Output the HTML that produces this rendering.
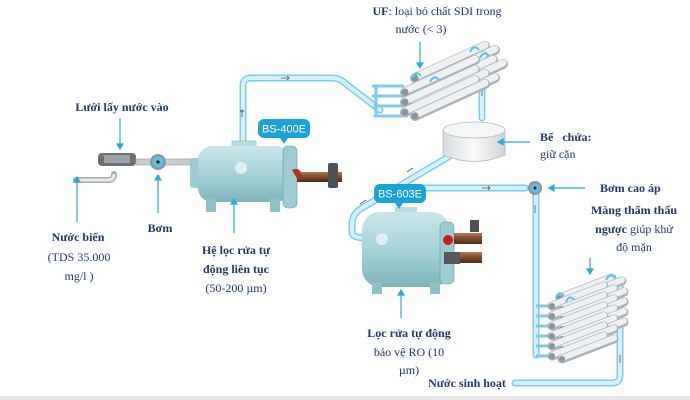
<!DOCTYPE html>
<html><head><meta charset="utf-8"><style>
html,body{margin:0;padding:0;background:#fff}
svg{display:block}
text{font-family:"Liberation Serif",serif;fill:#1f3864;font-size:12px}
.b{font-weight:bold}
.s{font-family:"Liberation Sans",sans-serif;fill:#fff;font-size:11px}
</style></head><body>
<svg width="690" height="400" viewBox="0 0 690 400" xmlns="http://www.w3.org/2000/svg">
<defs>
<linearGradient id="tk" x1="0" x2="1"><stop offset="0" stop-color="#d8dcdf"/><stop offset=".5" stop-color="#fafafa"/><stop offset="1" stop-color="#cfd3d6"/></linearGradient>
<linearGradient id="bd" x1="0" y1="0" x2="0" y2="1"><stop offset="0" stop-color="#c9e6ea"/><stop offset=".5" stop-color="#a6d3d9"/><stop offset="1" stop-color="#7fb4bb"/></linearGradient>
<linearGradient id="br" x1="0" y1="0" x2="0" y2="1"><stop offset="0" stop-color="#b07a55"/><stop offset=".5" stop-color="#7a4a2c"/><stop offset="1" stop-color="#4e2e1a"/></linearGradient>
<g id="uf"><line x1="0" y1="0" x2="70" y2="-32" stroke="#aab3ba" stroke-width="10" stroke-linecap="round"/><line x1="0" y1="-1" x2="70" y2="-33" stroke="#eef0f2" stroke-width="7" stroke-linecap="round"/><circle cx="0" cy="0" r="3.5" fill="#8a949b"/></g>
<g id="ro"><line x1="0" y1="0" x2="52" y2="-20" stroke="#aab3ba" stroke-width="9" stroke-linecap="round"/><line x1="0" y1="-1" x2="52" y2="-21" stroke="#eef0f2" stroke-width="6" stroke-linecap="round"/><circle cx="0" cy="0" r="3" fill="#8a949b"/></g>
</defs>
<g fill="none" stroke-linecap="round" stroke-linejoin="round">
<g stroke="#7fcbe8" stroke-width="7">
<path d="M243 140 V86 Q243 78 251 78 H332 Q340 78 346 84 L380 110"/>
<path d="M482 60 V118"/>
<path d="M460 150 L362 208 Q352 214 352 224 V232 Q352 238 366 238"/>
<path d="M420 188 H525"/>
<path d="M536 196 V355"/>
<path d="M515 383 H612 Q620 383 620 375 V285"/>
</g>
<g stroke="#d6f0fa" stroke-width="4">
<path d="M243 140 V86 Q243 78 251 78 H332 Q340 78 346 84 L380 110"/>
<path d="M482 60 V118"/>
<path d="M460 150 L362 208 Q352 214 352 224 V232 Q352 238 366 238"/>
<path d="M420 188 H525"/>
<path d="M536 196 V355"/>
<path d="M515 383 H612 Q620 383 620 375 V285"/>
</g>
</g>
<g stroke="#555" stroke-width=".8" fill="none">
<path d="M281 78 h8 m-2 -2 l2 2 -2 2"/><path d="M242 117 v-7 m-2 2 l2 -2 2 2"/>
<path d="M482 88 v8"/><path d="M413 168 l-6 4"/><path d="M366 200 l-6 4"/>
<path d="M482 188 h8 m-2 -2 l2 2 -2 2"/><path d="M535 205 v8"/><path d="M620 355 v8"/>
</g>
<g stroke="#7fcbe8" stroke-width="3" fill="none">
<path d="M372 86 H404 M372 96 H404 M374 106 H406 M374 116 H408 M376 86 V116"/>
</g>
<use href="#uf" x="415" y="78"/><use href="#uf" x="425" y="82"/>
<use href="#uf" x="413" y="88"/><use href="#uf" x="423" y="92"/><use href="#uf" x="433" y="96"/>
<use href="#uf" x="405" y="92"/><use href="#uf" x="405" y="102"/><use href="#uf" x="415" y="106"/><use href="#uf" x="425" y="110"/>
<use href="#uf" x="405" y="112"/><use href="#uf" x="415" y="116"/>
<g stroke="#5cc1e6" stroke-width="2" fill="none">
<path d="M412 78 q4 -8 9 -2 M430 82 q4 -8 9 -2 M470 52 q4 -8 9 -2 M480 58 q4 -8 9 -2"/>
</g>
<path d="M443 130 V155 Q474 168 505 155 V130 Z" fill="url(#tk)" stroke="#b5bcc1" stroke-width=".8"/>
<ellipse cx="474" cy="130" rx="31" ry="8" fill="#f5f6f7" stroke="#b5bcc1" stroke-width=".8"/>
<g stroke="#7fcbe8" stroke-width="3" fill="none">
<path d="M536 306 H552 M536 316 H552 M536 326 H552 M536 336 H552 M536 346 H552 M536 356 H552"/>
</g>
<use href="#ro" x="560" y="298"/><use href="#ro" x="570" y="301"/>
<use href="#ro" x="552" y="306"/><use href="#ro" x="562" y="309"/><use href="#ro" x="572" y="312"/>
<use href="#ro" x="552" y="316"/><use href="#ro" x="562" y="319"/><use href="#ro" x="572" y="322"/>
<use href="#ro" x="552" y="326"/><use href="#ro" x="562" y="329"/><use href="#ro" x="572" y="332"/>
<use href="#ro" x="552" y="336"/><use href="#ro" x="562" y="339"/><use href="#ro" x="572" y="342"/>
<use href="#ro" x="552" y="346"/><use href="#ro" x="562" y="349"/>
<use href="#ro" x="552" y="356"/><use href="#ro" x="562" y="359"/>
<g stroke="#5cc1e6" stroke-width="2" fill="none">
<path d="M556 298 q3 -8 8 -2 M566 302 q3 -8 8 -2 M606 280 q4 -8 9 -2"/>
</g>
<path d="M76 180 H108 Q114 180 114 174" stroke="#a7adb2" stroke-width="6" fill="none" stroke-linecap="round"/>
<path d="M76 180 H108 Q114 180 114 174" stroke="#e8eaec" stroke-width="3" fill="none"/>
<rect x="98" y="153" width="38" height="13" rx="4" fill="#6c7176"/>
<rect x="104" y="155" width="26" height="8" fill="#9aa0a5"/>
<rect x="136" y="159" width="60" height="6" fill="#c7cccf" stroke="#9aa0a5" stroke-width=".6"/>
<circle cx="158" cy="162" r="8" fill="#8f9599"/><circle cx="158" cy="162" r="5.5" fill="#5cc1e6"/><circle cx="158" cy="162" r="1.6" fill="#222"/>
<rect x="190" y="158" width="12" height="30" rx="3" fill="#9dcbd1"/>
<rect x="232" y="141" width="24" height="8" fill="#b6dde2" stroke="#8ab8be" stroke-width=".6"/>
<rect x="198" y="146" width="92" height="56" rx="14" fill="url(#bd)"/>
<rect x="206" y="198" width="10" height="14" fill="#8fc0c6"/><rect x="270" y="198" width="10" height="14" fill="#8fc0c6"/>
<rect x="283" y="146" width="14" height="62" rx="5" fill="#9fcbd2" stroke="#6a9ba2" stroke-width=".6"/>
<rect x="297" y="172" width="45" height="10" fill="url(#br)"/>
<path d="M292 170 q8 -4 10 6 l-4 4 z" fill="#b0302a"/>
<rect x="328" y="163" width="10" height="25" rx="2" fill="#4d5257"/>
<circle cx="241" cy="168" r="6" fill="#fff" opacity=".6"/>
<rect x="395" y="207" width="22" height="8" fill="#b6dde2"/>
<rect x="362" y="212" width="88" height="75" rx="18" fill="url(#bd)"/>
<rect x="372" y="282" width="10" height="12" fill="#8fc0c6"/><rect x="430" y="282" width="10" height="12" fill="#8fc0c6"/>
<rect x="440" y="222" width="14" height="62" rx="5" fill="#9fcbd2" stroke="#6a9ba2" stroke-width=".6"/>
<rect x="454" y="233" width="28" height="11" fill="url(#br)"/>
<rect x="454" y="252" width="28" height="11" fill="url(#br)"/>
<rect x="444" y="252" width="16" height="12" fill="#55595d"/>
<circle cx="448" cy="240" r="5" fill="#c81e1e"/>
<rect x="470" y="220" width="9" height="12" fill="#4d5257"/>
<circle cx="382" cy="239" r="6" fill="#fff" opacity=".6"/>
<circle cx="535" cy="188" r="7" fill="#8f9599"/><circle cx="535" cy="188" r="4.8" fill="#5cc1e6"/><circle cx="535" cy="188" r="1.5" fill="#222"/>
<rect x="258" y="119" width="52" height="19" rx="6" fill="#1aa3d9"/><path d="M280 138 l4 6 4 -6z" fill="#1aa3d9"/>
<text class="s" x="284" y="132.5" text-anchor="middle">BS-400E</text>
<rect x="374" y="184" width="52" height="19" rx="6" fill="#1aa3d9"/><path d="M395 203 l4 6 4 -6z" fill="#1aa3d9"/>
<text class="s" x="400" y="197.5" text-anchor="middle">BS-603E</text>
<g stroke="#2aa9dc" stroke-width="1.2" fill="#2aa9dc">
<path d="M120 118 V145"/><path d="M117 144 l3 5 3 -5z"/>
<path d="M77 222 V181"/><path d="M74 182 l3 -5 3 5z"/>
<path d="M158 213 V179"/><path d="M155 180 l3 -5 3 5z"/>
<path d="M234 233 V203"/><path d="M231 204 l3 -5 3 5z"/>
<path d="M420 42 V64"/><path d="M417 63 l3 5 3 -5z"/>
<path d="M530 142 H502"/><path d="M503 139 l-5 3 5 3z"/>
<path d="M585 188 H553"/><path d="M554 185 l-5 3 5 3z"/>
<path d="M590 258 V270"/><path d="M587 269 l3 5 3 -5z"/>
<path d="M401 318 V294"/><path d="M398 295 l3 -5 3 5z"/>
</g>
<text class="b" x="122" y="111" text-anchor="middle">Lưới lấy nước vào</text>
<text class="b" x="78" y="241" text-anchor="middle">Nước biển</text>
<text x="79" y="261" text-anchor="middle">(TDS 35.000</text>
<text x="79" y="280" text-anchor="middle">mg/l )</text>
<text class="b" x="160" y="232" text-anchor="middle">Bơm</text>
<text class="b" x="236" y="254" text-anchor="middle">Hệ lọc rửa tự</text>
<text class="b" x="236" y="273" text-anchor="middle">động liên tục</text>
<text x="236" y="292" text-anchor="middle">(50-200 µm)</text>
<text x="437" y="15" text-anchor="middle"><tspan class="b">UF</tspan>: loại bỏ chất SDI trong</text>
<text x="421" y="33" text-anchor="middle">nước (&lt; 3)</text>
<text class="b" x="540" y="141">Bể&#160;&#160;&#160;chứa:</text>
<text x="540" y="158">giữ cặn</text>
<text class="b" x="600" y="192">Bơm cao áp</text>
<text class="b" x="634" y="214" text-anchor="middle">Màng thẩm thấu</text>
<text x="634" y="233" text-anchor="middle"><tspan class="b">ngược</tspan> giúp khử</text>
<text x="634" y="251" text-anchor="middle">độ mặn</text>
<text class="b" x="409" y="337" text-anchor="middle">Lọc rửa tự động</text>
<text x="409" y="356" text-anchor="middle">bảo vệ RO (10</text>
<text x="409" y="374" text-anchor="middle">µm)</text>
<text class="b" x="467" y="387" text-anchor="middle">Nước sinh hoạt</text>
<rect x="0" y="396" width="690" height="4" fill="#e6e6e6"/>
</svg>
</body></html>
